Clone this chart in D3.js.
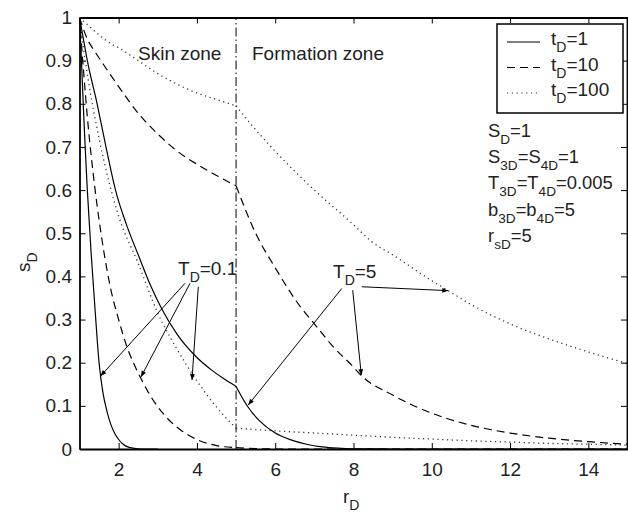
<!DOCTYPE html>
<html><head><meta charset="utf-8">
<script src="https://cdn.jsdelivr.net/npm/d3@7"></script>
<style>body{margin:0;background:#fff}svg{display:block}</style>
</head><body><svg id="c" width="628" height="516"></svg>
<script>
// ---------- data ----------
const xTicks = [2, 4, 6, 8, 10, 12, 14];
const yTicks = [0, 0.1, 0.2, 0.3, 0.4, 0.5, 0.6, 0.7, 0.8, 0.9, 1];
const yTickLabels = ["0", "0.1", "0.2", "0.3", "0.4", "0.5", "0.6", "0.7", "0.8", "0.9", "1"];
const skinBoundary = 5;

// t_D = 1, T_D = 0.1 (solid)
const r_t1_T01 = [1,1.05,1.1,1.15,1.2,1.3,1.4,1.5,1.6,1.7,1.8,1.9,2.0,2.1,2.2,2.4,2.6,3,15];
const s_t1_T01 = [1,0.9,0.79,0.69,0.6,0.45,0.32,0.2,0.13,0.088,0.057,0.036,0.022,0.012,0.006,0.0015,0,0,0];
// t_D = 10, T_D = 0.1 (dashed)
const r_t10_T01 = [1,1.1,1.2,1.4,1.6,1.8,2.0,2.2,2.4,2.6,2.8,3.0,3.3,3.6,4.0,4.5,5.0,5.5,6,15];
const s_t10_T01 = [1,0.88,0.77,0.6,0.47,0.37,0.3,0.24,0.195,0.158,0.125,0.098,0.066,0.043,0.022,0.008,0.003,0.001,0,0];
// t_D = 100, T_D = 0.1 (dotted)
const r_t100_T01 = [1,1.1,1.25,1.5,1.75,2,2.5,3,3.5,4,4.5,5,5.5,6,7,8,9,10,11,12,13,14,15];
const s_t100_T01 = [1,0.93,0.84,0.72,0.62,0.54,0.43,0.315,0.23,0.158,0.097,0.048,0.045,0.042,0.037,0.032,0.027,0.023,0.019,0.016,0.013,0.011,0.009];
// t_D = 1, T_D = 5 (solid)
const r_t1_T5 = [1,1.1,1.2,1.45,1.7,1.92,2.2,2.5,2.81,3.1,3.5,4,4.36,4.7,5,5.15,5.3,5.6,6,6.4,6.8,7.2,7.6,8,9,15];
const s_t1_T5 = [1,0.95,0.9,0.8,0.69,0.6,0.52,0.45,0.38,0.325,0.265,0.212,0.184,0.162,0.145,0.12,0.098,0.065,0.037,0.021,0.011,0.005,0.002,0.0006,0,0];
// t_D = 10, T_D = 5 (dashed)
const r_t10_T5 = [1,1.2,1.4,1.62,2,2.5,3,3.5,4,4.5,5,5.5,6,6.64,7,7.5,8,8.18,9,10,11,12,13,14,15];
const s_t10_T5 = [1,0.95,0.92,0.89,0.84,0.778,0.73,0.69,0.66,0.634,0.61,0.5,0.42,0.33,0.29,0.235,0.19,0.172,0.125,0.083,0.055,0.037,0.025,0.017,0.011];
// t_D = 100, T_D = 5 (dotted)
const r_t100_T5 = [1,1.5,1.79,2,2.5,3,3.33,3.5,4,4.5,5,5.5,6,7,8,8.47,9,10,10.42,11,12,13,14,15];
const s_t100_T5 = [1,0.96,0.94,0.93,0.9,0.87,0.853,0.845,0.825,0.81,0.795,0.74,0.69,0.6,0.52,0.48,0.45,0.39,0.367,0.335,0.29,0.255,0.225,0.198];

const seriesStyles = ["solid", "dashed", "dotted", "solid", "dashed", "dotted"];
const seriesR = [r_t1_T01, r_t10_T01, r_t100_T01, r_t1_T5, r_t10_T5, r_t100_T5];
const seriesS = [s_t1_T01, s_t10_T01, s_t100_T01, s_t1_T5, s_t10_T5, s_t100_T5];

const legendLabels = [["t","D","=1"], ["t","D","=10"], ["t","D","=100"]];
const legendStyles = ["solid", "dashed", "dotted"];
const paramLines = [
  [["S",0],["D",1],["=1",0]],
  [["S",0],["3D",1],["=S",0],["4D",1],["=1",0]],
  [["T",0],["3D",1],["=T",0],["4D",1],["=0.005",0]],
  [["b",0],["3D",1],["=b",0],["4D",1],["=5",0]],
  [["r",0],["sD",1],["=5",0]]
];
// annotation arrows (data coords)
const annoLabels = [[["T",0],["D",1],["=0.1",0]], [["T",0],["D",1],["=5",0]]];
const annoLabelPos = [[3.517, 0.403], [7.477, 0.396]];
const annoArrows = [
  [[[3.695,0.384],[1.537,0.169]], [[3.823,0.384],[2.571,0.167]], [[4.035,0.376],[3.874,0.16]]],
  [[[7.70,0.372],[5.31,0.102]], [[7.98,0.368],[8.20,0.171]], [[8.21,0.376],[10.42,0.367]]]
];

// ---------- drawing ----------
const FONT = "'Liberation Sans', Arial, Helvetica, sans-serif";
const FS = 19, SUBFS = 14, SUBSHIFT = 7;
const svg = d3.select("#c");
const xS = d3.scaleLinear().domain([1, 15]).range([79.5, 627.5]);
const yS = d3.scaleLinear().domain([0, 1]).range([449, 17.5]);

const dash = {solid: null, dashed: "8,5", dotted: "1.2,3.6"};
const dashCol = {solid: "#000", dashed: "#000", dotted: "#333"};

function subText(g, px, py, parts, fs, subfs) {
  fs = fs || FS; subfs = subfs || SUBFS;
  const t = g.append("text").attr("x", px).attr("y", py)
    .attr("font-family", FONT).attr("font-size", fs).attr("fill", "#222");
  let cur = 0;
  parts.forEach(([s, sub]) => {
    const target = sub ? SUBSHIFT : 0;
    t.append("tspan").attr("dy", target - cur).attr("font-size", sub ? subfs : fs).text(s);
    cur = target;
  });
  return t;
}

const defs = svg.append("defs");
defs.append("clipPath").attr("id", "pc")
  .append("rect").attr("x", xS(1)).attr("y", yS(1)).attr("width", xS(15) - xS(1)).attr("height", yS(0) - yS(1));

// vertical dash-dot boundary
svg.append("line").attr("x1", xS(skinBoundary)).attr("x2", xS(skinBoundary))
  .attr("y1", yS(0)).attr("y2", yS(1)).attr("stroke", "#000").attr("stroke-width", 1)
  .attr("stroke-dasharray", "9,3,1.5,3");

// curves, split at skin boundary to keep the kink
const lineGen = d3.line().x(d => xS(d[0])).y(d => yS(d[1])).curve(d3.curveMonotoneX);
const plotG = svg.append("g").attr("clip-path", "url(#pc)");
seriesR.forEach((rs, i) => {
  const pts = rs.map((r, j) => [r, seriesS[i][j]]);
  const segs = [pts.filter(p => p[0] <= skinBoundary), pts.filter(p => p[0] >= skinBoundary)];
  const st = seriesStyles[i];
  segs.forEach(seg => {
    if (seg.length < 2) return;
    plotG.append("path").attr("d", lineGen(seg)).attr("fill", "none")
      .attr("stroke", dashCol[st]).attr("stroke-width", st === "dotted" ? 1.3 : 1.2)
      .attr("stroke-dasharray", dash[st]);
  });
});

// zone texts
svg.append("text").attr("x", 138).attr("y", 60).attr("font-family", FONT).attr("font-size", FS)
  .attr("fill", "#222").text("Skin zone");
svg.append("text").attr("x", 252).attr("y", 60).attr("font-family", FONT).attr("font-size", FS)
  .attr("fill", "#222").text("Formation zone");

// annotations
defs.append("marker").attr("id", "ah").attr("viewBox", "0 0 10 10")
  .attr("refX", 10).attr("refY", 5).attr("markerWidth", 8).attr("markerHeight", 6)
  .attr("markerUnits", "userSpaceOnUse").attr("orient", "auto")
  .append("path").attr("d", "M0,1 L10,5 L0,9 Z").attr("fill", "#000");
annoLabels.forEach((lab, i) => {
  subText(svg, xS(annoLabelPos[i][0]), yS(annoLabelPos[i][1]), lab);
  annoArrows[i].forEach(([a, b]) => {
    svg.append("line").attr("x1", xS(a[0])).attr("y1", yS(a[1])).attr("x2", xS(b[0])).attr("y2", yS(b[1]))
      .attr("stroke", "#000").attr("stroke-width", 1).attr("marker-end", "url(#ah)");
  });
});

// axes (box with inward ticks)
const axG = svg.append("g").attr("font-family", FONT);
const axB = axG.append("g").attr("transform", `translate(0,${yS(0)})`)
  .call(d3.axisBottom(xS).tickValues(xTicks).tickSizeInner(-6).tickSizeOuter(0).tickPadding(14));
const axT = axG.append("g").attr("transform", `translate(0,${yS(1)})`)
  .call(d3.axisTop(xS).tickValues(xTicks).tickSizeInner(-6).tickSizeOuter(0).tickFormat(""));
const axL = axG.append("g").attr("transform", `translate(${xS(1)},0)`)
  .call(d3.axisLeft(yS).tickValues(yTicks).tickSizeInner(-6).tickSizeOuter(0).tickPadding(7.5)
    .tickFormat((d, i) => yTickLabels[i]));
const axR = axG.append("g").attr("transform", `translate(${xS(15) - 0.5},0)`)
  .call(d3.axisRight(yS).tickValues(yTicks).tickSizeInner(-6).tickSizeOuter(0).tickFormat(""));
[axB, axT, axL, axR].forEach(g => {
  g.select(".domain").attr("stroke", "#000").attr("stroke-width", 1.8);
  g.selectAll(".tick line").attr("stroke", "#000").attr("stroke-width", 1);
  g.selectAll(".tick text").attr("font-size", FS).attr("fill", "#222").attr("font-family", FONT);
});

// axis labels
subText(svg, 343, 503, [["r",0],["D",1]]);
const yl = svg.append("g").attr("transform", "translate(30,262) rotate(-90)");
subText(yl, -10, 0, [["s",0],["D",1]]);

// legend
const lg = svg.append("g");
lg.append("rect").attr("x", 497).attr("y", 24).attr("width", 126).attr("height", 89)
  .attr("fill", "#fff").attr("stroke", "#000").attr("stroke-width", 1.5);
legendLabels.forEach((lab, i) => {
  const cy = 42 + i * 25.5;
  lg.append("line").attr("x1", 507).attr("x2", 540).attr("y1", cy).attr("y2", cy)
    .attr("stroke", dashCol[legendStyles[i]]).attr("stroke-width", 1.2)
    .attr("stroke-dasharray", dash[legendStyles[i]]);
  subText(lg, 551, cy + 3, [[lab[0],0],[lab[1],1],[lab[2],0]]);
});

// parameter block
paramLines.forEach((p, i) => {
  subText(svg, 488, 136.5 + i * 26.4, p, 18.4, 13.6);
});
</script></body></html>
